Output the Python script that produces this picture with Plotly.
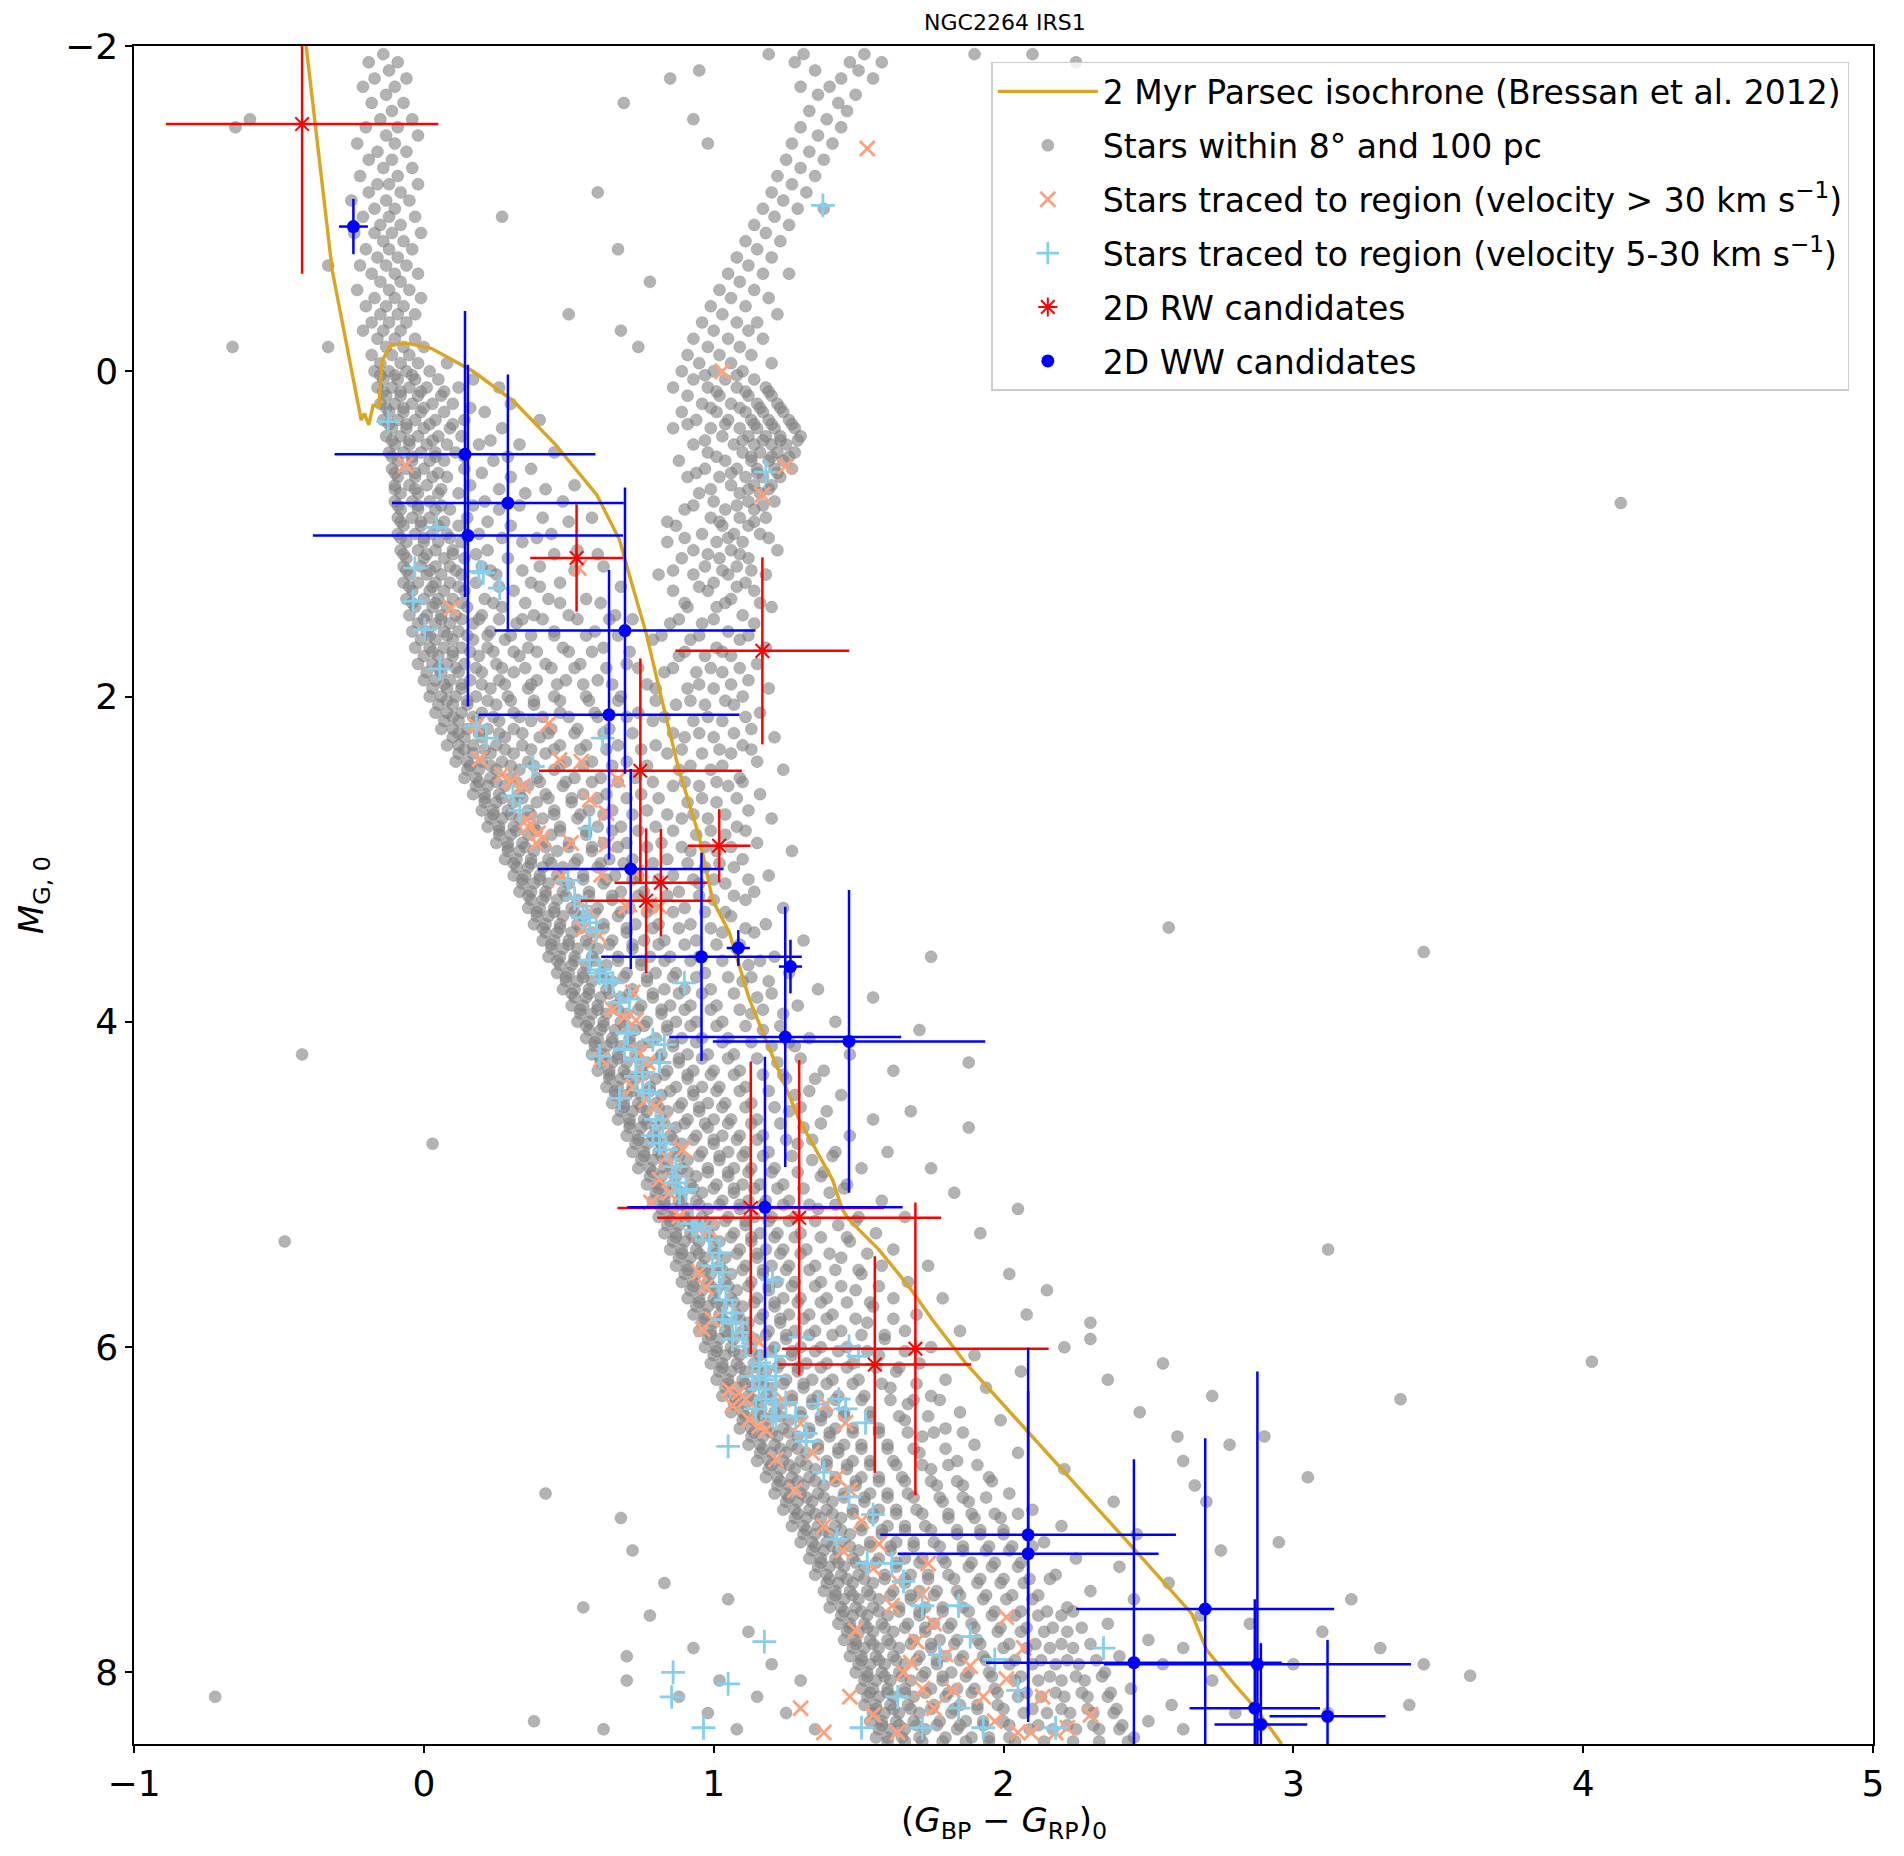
import plotly.graph_objects as go

# ---- background field stars (color, magnitude) ----
field_rows = [
    (-1.95, [-0.14, 1.19, 1.31, 1.52, 2.10]),
    (-1.90, [-0.09, -0.19, 1.28, 1.47, 1.58]),
    (-1.85, [-0.12, 1.35, 1.50, 0.95]),
    (-1.80, [-0.17, -0.06, 1.44, 1.55]),
    (-1.75, [-0.21, -0.10, 1.40, 1.30]),
    (-1.70, [-0.13, 1.49, 1.36]),
    (-1.65, [-0.18, -0.07, 0.69, 1.43]),
    (-1.60, [-0.11, 1.33, 1.46]),
    (-1.55, [-0.60, -0.15, -0.04, 1.39]),
    (-1.50, [-0.20, -0.09, 1.30, 1.44]),
    (-1.45, [-0.13, -0.02, 1.36]),
    (-1.40, [-0.23, -0.10, 1.27, 1.41]),
    (-1.35, [-0.16, -0.06, 1.33]),
    (-1.30, [-0.19, -0.11, 1.25, 1.38]),
    (-1.25, [-0.14, -0.04, 1.30]),
    (-1.20, [-0.22, -0.09, 1.22, 1.35]),
    (-1.15, [-0.16, -0.12, -0.02, 1.27]),
    (-1.10, [-0.19, -0.08, 1.20, 1.32]),
    (-1.05, [-0.25, -0.13, -0.05, 1.24]),
    (-1.00, [-0.17, -0.10, 1.17, 1.29, 1.38]),
    (-0.95, [-0.21, -0.12, -0.03, 0.27, 1.21]),
    (-0.90, [-0.15, -0.08, 1.14, 1.26]),
    (-0.85, [-0.24, -0.17, -0.11, -0.01, 1.18]),
    (-0.80, [-0.14, -0.07, 1.11, 1.23]),
    (-0.75, [-0.20, -0.12, -0.04, 0.67, 1.15]),
    (-0.70, [-0.16, -0.09, 1.08, 1.20]),
    (-0.65, [-0.33, -0.22, -0.13, -0.06, 1.12]),
    (-0.60, [-0.18, -0.10, -0.02, 1.05, 1.17, 1.26]),
    (-0.55, [-0.15, -0.08, 0.78, 1.09]),
    (-0.50, [-0.23, -0.12, -0.05, 1.02, 1.14]),
    (-0.45, [-0.17, -0.10, -0.01, 1.06, 1.19]),
    (-0.40, [-0.20, -0.13, -0.07, 0.99, 1.11]),
    (-0.35, [-0.15, -0.09, -0.03, 0.50, 1.03, 1.22]),
    (-0.30, [-0.18, -0.12, -0.06, 0.96, 1.08, 1.15]),
    (-0.25, [-0.21, -0.14, -0.08, 0.68, 1.00, 1.12]),
    (-0.20, [-0.16, -0.10, -0.03, 0.93, 1.05, 1.17]),
    (-0.15, [-0.66, -0.33, -0.13, -0.07, 0.00, 0.74, 0.98, 1.09]),
    (-0.10, [-0.18, -0.11, -0.05, 0.91, 1.02, 1.13]),
    (-0.05, [-0.15, -0.08, -0.02, 0.08, 0.95, 1.06, 1.20]),
    (0.00, [-0.17, -0.12, -0.06, 0.02, 0.89, 1.00, 1.10]),
    (0.05, [-0.14, -0.09, -0.03, 0.05, 0.17, 0.93, 1.04, 1.14]),
    (0.10, [-0.16, -0.11, -0.05, 0.01, 0.12, 0.26, 0.86, 0.98, 1.08, 1.18]),
    (0.15, [-0.13, -0.08, -0.02, 0.06, 0.91, 1.02, 1.12, 1.20]),
    (0.20, [-0.15, -0.10, -0.04, 0.03, 0.10, 0.30, 0.96, 1.06, 1.15, 1.22]),
    (0.25, [-0.12, -0.07, -0.01, 0.07, 0.21, 0.89, 1.01, 1.11, 1.17, 1.24]),
    (0.30, [-0.14, -0.09, -0.03, 0.04, 0.14, 0.40, 0.94, 1.05, 1.13, 1.19, 1.26]),
    (0.35, [-0.11, -0.06, 0.00, 0.09, 0.27, 0.86, 0.99, 1.09, 1.15, 1.21, 1.28]),
    (0.40, [-0.13, -0.08, -0.02, 0.05, 0.13, 1.03, 1.12, 1.18, 1.23, 1.30]),
    (0.45, [-0.10, -0.05, 0.01, 0.08, 0.19, 0.33, 0.93, 1.07, 1.14, 1.20, 1.25]),
    (0.50, [-0.12, -0.07, -0.01, 0.04, 0.11, 0.45, 0.98, 1.10, 1.16, 1.22, 1.28]),
    (0.55, [-0.09, -0.04, 0.02, 0.07, 0.24, 0.88, 1.04, 1.13, 1.19, 1.24]),
    (0.60, [-0.11, -0.06, 0.00, 0.14, 0.37, 0.97, 1.08, 1.15, 1.21, 1.27]),
    (0.65, [-0.09, -0.03, 0.03, 0.08, 0.30, 0.91, 1.02, 1.11, 1.17, 1.23]),
    (0.70, [-0.10, -0.05, 0.01, 0.16, 0.52, 1.06, 1.14, 1.20]),
    (0.75, [-0.08, -0.02, 0.05, 0.12, 0.35, 0.95, 1.09, 1.16]),
    (0.80, [-0.10, -0.04, 0.02, 0.21, 0.48, 1.00, 1.12, 1.21]),
    (0.85, [-0.08, -0.02, 0.04, 0.09, 0.26, 0.90, 1.04, 1.14]),
    (0.90, [-0.09, -0.04, 0.02, 0.15, 0.41, 0.58, 0.99, 1.09, 1.18]),
    (0.95, [-0.07, -0.01, 0.05, 0.12, 0.30, 0.87, 1.03, 1.12]),
    (1.00, [-0.09, -0.03, 0.03, 0.08, 0.19, 0.44, 0.96, 1.07, 1.16]),
    (1.05, [-0.06, 0.00, 0.05, 0.13, 0.34, 0.84, 1.01, 1.10]),
    (1.10, [-0.08, -0.02, 0.04, 0.10, 0.22, 0.53, 0.93, 1.06, 1.22]),
    (1.15, [-0.06, 0.00, 0.07, 0.14, 0.29, 0.89, 1.02, 1.12]),
    (1.20, [-0.07, -0.01, 0.04, 0.09, 0.20, 0.40, 0.62, 0.97, 1.08]),
    (1.25, [-0.05, 0.01, 0.06, 0.13, 0.25, 0.81, 0.93, 1.05, 1.18]),
    (1.30, [-0.07, -0.02, 0.04, 0.09, 0.18, 0.37, 0.47, 1.00, 1.11]),
    (1.35, [-0.04, 0.02, 0.07, 0.14, 0.31, 0.86, 0.98, 1.14]),
    (1.40, [-0.06, 0.00, 0.05, 0.10, 0.21, 0.43, 0.56, 1.06]),
    (1.45, [-0.03, 0.03, 0.08, 0.15, 0.27, 0.91, 1.01, 1.20]),
    (1.50, [-0.05, 0.01, 0.06, 0.11, 0.20, 0.38, 0.50, 0.66, 1.10]),
    (1.55, [-0.02, 0.04, 0.09, 0.17, 0.32, 0.85, 0.96, 1.14]),
    (1.60, [-0.04, 0.01, 0.07, 0.12, 0.23, 0.45, 0.59, 1.05]),
    (1.65, [-0.01, 0.04, 0.10, 0.17, 0.28, 0.79, 0.92, 1.09]),
    (1.70, [-0.03, 0.02, 0.07, 0.13, 0.22, 0.36, 0.48, 0.62, 1.01, 1.18]),
    (1.75, [0.00, 0.05, 0.10, 0.19, 0.33, 0.88, 0.97, 1.06]),
    (1.80, [-0.02, 0.03, 0.08, 0.14, 0.25, 0.42, 0.54, 0.70, 1.15]),
    (1.85, [0.01, 0.06, 0.12, 0.20, 0.31, 0.83, 0.94, 1.03]),
    (1.90, [0.00, 0.04, 0.09, 0.16, 0.26, 0.39, 0.49, 0.60, 1.12]),
    (1.95, [0.03, 0.08, 0.13, 0.23, 0.36, 0.80, 0.91, 1.00, 1.19]),
    (2.00, [0.02, 0.06, 0.11, 0.18, 0.29, 0.45, 0.56, 0.68, 1.10]),
    (2.05, [0.05, 0.10, 0.15, 0.25, 0.38, 0.87, 0.97, 1.07]),
    (2.10, [0.04, 0.08, 0.13, 0.20, 0.31, 0.47, 0.59, 0.74, 1.16]),
    (2.15, [0.07, 0.12, 0.18, 0.26, 0.37, 0.79, 0.93, 1.03]),
    (2.20, [0.06, 0.10, 0.15, 0.22, 0.31, 0.44, 0.53, 0.64, 1.13]),
    (2.25, [0.10, 0.14, 0.20, 0.28, 0.40, 0.90, 1.00, 1.21]),
    (2.30, [0.08, 0.12, 0.17, 0.25, 0.34, 0.47, 0.56, 0.67, 0.80, 1.10]),
    (2.35, [0.12, 0.17, 0.23, 0.31, 0.42, 0.84, 0.96, 1.06]),
    (2.40, [0.11, 0.15, 0.20, 0.27, 0.36, 0.49, 0.58, 0.70, 1.15]),
    (2.45, [0.15, 0.19, 0.25, 0.33, 0.45, 0.88, 0.99, 1.24]),
    (2.50, [0.14, 0.18, 0.23, 0.30, 0.39, 0.52, 0.61, 0.73, 1.09]),
    (2.55, [0.18, 0.22, 0.28, 0.36, 0.48, 0.86, 0.95, 1.05]),
    (2.60, [0.17, 0.21, 0.26, 0.33, 0.42, 0.55, 0.63, 0.75, 1.16]),
    (2.65, [0.21, 0.25, 0.31, 0.39, 0.51, 0.91, 1.01]),
    (2.70, [0.20, 0.24, 0.29, 0.36, 0.45, 0.57, 0.65, 0.77, 1.12]),
    (2.75, [0.23, 0.27, 0.33, 0.41, 0.53, 0.89, 0.98, 1.20]),
    (2.80, [0.22, 0.26, 0.31, 0.38, 0.47, 0.60, 0.68, 0.80, 1.08]),
    (2.85, [0.26, 0.30, 0.36, 0.44, 0.56, 0.94, 1.04]),
    (2.90, [0.25, 0.29, 0.34, 0.41, 0.50, 0.62, 0.70, 0.82, 1.15]),
    (2.95, [0.29, 0.33, 0.38, 0.46, 0.58, 0.92, 1.01, 1.27]),
    (3.00, [0.28, 0.32, 0.37, 0.43, 0.53, 0.64, 0.72, 0.84, 1.10]),
    (3.05, [0.32, 0.36, 0.41, 0.48, 0.60, 0.97, 1.07]),
    (3.10, [0.31, 0.35, 0.40, 0.46, 0.55, 0.66, 0.74, 0.86, 1.19]),
    (3.15, [0.34, 0.38, 0.43, 0.50, 0.62, 0.95, 1.04]),
    (3.20, [0.33, 0.37, 0.42, 0.48, 0.57, 0.68, 0.76, 0.88, 1.14]),
    (3.25, [0.37, 0.41, 0.46, 0.53, 0.65, 1.00, 1.11]),
    (3.30, [0.36, 0.40, 0.45, 0.51, 0.60, 0.71, 0.79, 0.90, 1.24]),
    (3.35, [0.39, 0.43, 0.48, 0.55, 0.67, 1.06]),
    (3.40, [0.38, 0.42, 0.47, 0.53, 0.62, 0.73, 0.81, 0.92, 1.18]),
    (3.45, [0.42, 0.46, 0.51, 0.58, 0.70, 1.03, 1.14]),
    (3.50, [0.41, 0.45, 0.50, 0.56, 0.65, 0.76, 0.83, 0.94, 1.31]),
    (3.55, [0.44, 0.48, 0.53, 0.60, 0.72, 1.08]),
    (3.60, [0.43, 0.47, 0.52, 0.58, 0.67, 0.78, 0.85, 0.95, 1.21]),
    (3.65, [0.47, 0.51, 0.56, 0.63, 0.75, 1.12]),
    (3.70, [0.46, 0.50, 0.55, 0.61, 0.70, 0.80, 0.87, 0.97, 1.26]),
    (3.75, [0.49, 0.53, 0.58, 0.65, 0.77, 1.10, 1.19]),
    (3.80, [0.48, 0.52, 0.57, 0.63, 0.72, 0.83, 0.90, 0.99, 1.36]),
    (3.85, [0.52, 0.56, 0.61, 0.68, 0.79, 1.15]),
    (3.90, [0.51, 0.55, 0.60, 0.66, 0.75, 0.85, 0.92, 1.01, 1.29]),
    (3.95, [0.54, 0.58, 0.63, 0.70, 0.82, 1.13, 1.24]),
    (4.00, [0.53, 0.57, 0.62, 0.68, 0.77, 0.87, 0.94, 1.03, 1.42]),
    (4.05, [0.57, 0.61, 0.66, 0.73, 0.84, 1.17]),
    (4.10, [0.56, 0.60, 0.65, 0.71, 0.80, 0.89, 0.96, 1.05, 1.33]),
    (4.15, [0.59, 0.63, 0.68, 0.75, 0.86, 1.20, 1.28]),
    (4.20, [0.58, 0.62, 0.67, 0.73, 0.82, 0.91, 0.98, 1.07, 1.47, -0.42]),
    (4.25, [0.61, 0.65, 0.70, 0.77, 0.88, 1.22]),
    (4.30, [0.60, 0.64, 0.69, 0.75, 0.84, 0.93, 1.00, 1.09, 1.38]),
    (4.35, [0.64, 0.68, 0.73, 0.80, 0.91, 1.25, 1.35]),
    (4.40, [0.63, 0.67, 0.72, 0.78, 0.87, 0.96, 1.02, 1.11]),
    (4.45, [0.66, 0.70, 0.75, 0.82, 0.93, 1.28, 1.44]),
    (4.50, [0.65, 0.69, 0.74, 0.80, 0.89, 0.98, 1.04, 1.13]),
    (4.55, [0.68, 0.72, 0.77, 0.84, 0.95, 1.26, 1.39]),
    (4.60, [0.67, 0.71, 0.76, 0.82, 0.91, 1.00, 1.06, 1.15, 1.55]),
    (4.65, [0.71, 0.75, 0.80, 0.87, 0.98, 1.31]),
    (4.70, [0.70, 0.74, 0.79, 0.85, 0.94, 1.03, 1.09, 1.17, 1.47]),
    (4.75, [0.73, 0.77, 0.82, 0.89, 1.00, 1.29, 0.03]),
    (4.80, [0.72, 0.76, 0.81, 0.87, 0.96, 1.05, 1.11, 1.19, 1.42, 1.60]),
    (4.85, [0.75, 0.79, 0.84, 0.91, 1.02, 1.34]),
    (4.90, [0.74, 0.78, 0.83, 0.89, 0.98, 1.07, 1.13, 1.21, 1.51]),
    (4.95, [0.78, 0.82, 0.87, 0.94, 1.05, 1.37]),
    (5.00, [0.77, 0.81, 0.86, 0.92, 1.01, 1.10, 1.16, 1.24, 1.46]),
    (5.05, [0.80, 0.84, 0.89, 0.96, 1.07, 1.40]),
    (5.10, [0.79, 0.83, 0.88, 0.94, 1.03, 1.12, 1.18, 1.26, 1.58]),
    (5.15, [0.82, 0.86, 0.91, 0.98, 1.09, 1.36]),
    (5.20, [0.81, 0.85, 0.90, 0.96, 1.05, 1.14, 1.20, 1.28, 1.50, 1.66]),
    (5.25, [0.84, 0.88, 0.93, 1.00, 1.11, 1.43]),
    (5.30, [0.83, 0.87, 0.92, 0.98, 1.07, 1.16, 1.22, 1.30, 1.56]),
    (5.35, [0.86, 0.90, 0.95, 1.02, 1.13, 1.47, -0.48]),
    (5.40, [0.85, 0.89, 0.94, 1.00, 1.09, 1.18, 1.24, 1.32, 1.62]),
    (5.45, [0.88, 0.92, 0.97, 1.04, 1.15, 1.44]),
    (5.50, [0.87, 0.91, 0.96, 1.02, 1.11, 1.20, 1.26, 1.35, 1.58, 1.74]),
    (5.55, [0.90, 0.94, 0.99, 1.06, 1.17, 1.51]),
    (5.60, [0.89, 0.93, 0.98, 1.04, 1.13, 1.22, 1.28, 1.37, 1.67]),
    (5.65, [0.92, 0.96, 1.01, 1.08, 1.19, 1.49]),
    (5.70, [0.91, 0.95, 1.00, 1.06, 1.15, 1.24, 1.30, 1.39, 1.62, 1.79]),
    (5.75, [0.94, 0.98, 1.03, 1.10, 1.21, 1.55]),
    (5.80, [0.93, 0.97, 1.02, 1.08, 1.17, 1.26, 1.33, 1.41, 1.70]),
    (5.85, [0.96, 1.00, 1.05, 1.12, 1.23, 1.53]),
    (5.90, [0.95, 0.99, 1.04, 1.10, 1.19, 1.28, 1.35, 1.44, 1.66, 1.85]),
    (5.95, [0.98, 1.02, 1.07, 1.14, 1.25, 1.59]),
    (6.00, [0.97, 1.01, 1.06, 1.12, 1.21, 1.30, 1.37, 1.46, 1.75]),
    (6.05, [1.00, 1.04, 1.09, 1.16, 1.27, 1.57, 1.90]),
    (6.10, [0.99, 1.03, 1.08, 1.14, 1.23, 1.32, 1.39, 1.48, 1.71]),
    (6.15, [1.02, 1.06, 1.11, 1.18, 1.29, 1.63, 2.06]),
    (6.20, [1.01, 1.05, 1.10, 1.16, 1.25, 1.34, 1.41, 1.50, 1.80]),
    (6.25, [1.04, 1.08, 1.13, 1.20, 1.31, 1.61, 1.94]),
    (6.30, [1.03, 1.07, 1.12, 1.18, 1.27, 1.36, 1.43, 1.52, 1.75, 2.72]),
    (6.35, [1.07, 1.11, 1.16, 1.23, 1.34, 1.67]),
    (6.40, [1.06, 1.10, 1.15, 1.21, 1.30, 1.39, 1.45, 1.54, 1.85]),
    (6.45, [1.10, 1.14, 1.19, 1.26, 1.37, 1.66, 1.99]),
    (6.50, [1.09, 1.13, 1.18, 1.24, 1.33, 1.42, 1.48, 1.57, 1.80]),
    (6.55, [1.13, 1.17, 1.22, 1.29, 1.40, 1.72, 2.60]),
    (6.60, [1.12, 1.16, 1.21, 1.27, 1.36, 1.45, 1.51, 1.60, 1.90]),
    (6.65, [1.16, 1.20, 1.25, 1.32, 1.43, 1.71, 2.05]),
    (6.70, [1.15, 1.19, 1.24, 1.30, 1.39, 1.48, 1.54, 1.62, 1.84]),
    (6.75, [1.19, 1.23, 1.28, 1.35, 1.46, 1.75, 2.21]),
    (6.80, [1.18, 1.22, 1.27, 1.33, 1.42, 1.51, 1.57, 1.65, 1.95]),
    (6.85, [1.22, 1.26, 1.31, 1.38, 1.49, 1.77, 1.86, 2.66]),
    (6.90, [1.21, 1.25, 1.30, 1.36, 1.45, 1.54, 1.60, 1.67, 2.02]),
    (6.95, [1.25, 1.29, 1.34, 1.41, 1.52, 1.79, 1.88, 2.38]),
    (7.00, [1.24, 1.28, 1.33, 1.39, 1.48, 1.57, 1.63, 1.70, 2.10]),
    (7.05, [1.28, 1.32, 1.37, 1.44, 1.55, 1.81, 1.90, 1.99, 0.68]),
    (7.10, [1.27, 1.31, 1.36, 1.42, 1.51, 1.60, 1.66, 1.73, 2.20]),
    (7.15, [1.31, 1.35, 1.40, 1.47, 1.58, 1.84, 1.92, 2.00, 2.46]),
    (7.20, [1.30, 1.34, 1.39, 1.45, 1.54, 1.63, 1.69, 1.76, 2.14]),
    (7.25, [1.34, 1.38, 1.43, 1.50, 1.61, 1.86, 1.94, 2.02, 2.75, 0.72]),
    (7.30, [1.33, 1.37, 1.42, 1.48, 1.57, 1.66, 1.72, 1.79, 2.25]),
    (7.35, [1.36, 1.40, 1.45, 1.52, 1.63, 1.88, 1.96, 2.05, 2.40]),
    (7.40, [1.35, 1.39, 1.44, 1.50, 1.59, 1.68, 1.74, 1.81, 2.18]),
    (7.45, [1.39, 1.43, 1.48, 1.55, 1.66, 1.91, 1.99, 2.07, 2.57, 0.83]),
    (7.50, [1.38, 1.42, 1.47, 1.53, 1.62, 1.71, 1.77, 1.84, 2.30]),
    (7.55, [1.41, 1.45, 1.50, 1.57, 1.68, 1.93, 2.01, 2.10, 2.45, 1.05]),
    (7.60, [1.40, 1.44, 1.49, 1.55, 1.64, 1.73, 1.79, 1.86, 2.22]),
    (7.65, [1.44, 1.48, 1.53, 1.60, 1.71, 1.96, 2.04, 2.12, 2.20, 2.68, 0.78]),
    (7.70, [1.43, 1.47, 1.52, 1.58, 1.67, 1.76, 1.82, 1.89, 2.36]),
    (7.75, [1.46, 1.50, 1.55, 1.62, 1.73, 1.98, 2.06, 2.14, 2.22, 3.10, 1.12]),
    (7.80, [1.45, 1.49, 1.54, 1.60, 1.69, 1.78, 1.84, 1.91, 2.50]),
    (7.85, [1.48, 1.52, 1.57, 1.64, 1.75, 2.00, 2.08, 2.16, 2.24, 2.62, 0.93]),
    (7.90, [1.47, 1.51, 1.56, 1.62, 1.71, 1.80, 1.86, 1.93, 2.40]),
    (7.95, [1.50, 1.54, 1.59, 1.66, 1.77, 2.02, 2.10, 2.18, 2.26, 2.55, 1.20, 3.45]),
    (8.00, [1.49, 1.53, 1.58, 1.64, 1.73, 1.82, 1.88, 1.95, 2.35]),
    (8.05, [1.52, 1.56, 1.61, 1.68, 1.79, 2.04, 2.12, 2.20, 2.28, 2.72, 1.02, 1.30, 0.70]),
    (8.10, [1.51, 1.55, 1.60, 1.66, 1.75, 1.84, 1.90, 1.97, 2.44]),
    (8.15, [1.53, 1.57, 1.62, 1.69, 1.80, 2.05, 2.13, 2.21, 2.29, 2.36, 1.15, 0.88, -0.72]),
    (8.20, [1.52, 1.56, 1.61, 1.67, 1.76, 1.85, 1.91, 1.98, 2.58]),
    (8.25, [1.55, 1.59, 1.64, 1.71, 1.82, 2.07, 2.15, 2.23, 2.31, 2.38, 2.80, 1.25, 0.98, 3.12]),
    (8.30, [1.54, 1.58, 1.63, 1.69, 1.78, 1.87, 1.93, 2.00, 2.50]),
    (8.35, [1.57, 1.61, 1.66, 1.73, 1.84, 2.09, 2.17, 2.25, 2.33, 2.40, 2.62, 1.35, 1.08, 0.62]),
    (8.40, [1.56, 1.60, 1.65, 1.71, 1.80, 1.89, 1.95, 2.02, 2.45]),
]

# more field stars in the crowded parts, read between the rows above
field_rows_dense = [
    (0.025, [-0.15, -0.10, -0.04, 0.97, 1.08]),
    (0.125, [-0.14, -0.08, -0.01, 0.07, 1.01, 1.11, 1.19]),
    (0.225, [-0.13, -0.07, 0.00, 0.16, 0.99, 1.09, 1.16, 1.23]),
    (0.325, [-0.12, -0.06, 0.02, 0.10, 0.91, 1.04, 1.14, 1.20, 1.27]),
    (0.425, [-0.11, -0.05, 0.03, 0.23, 0.97, 1.10, 1.17, 1.23, 1.29]),
    (0.525, [-0.11, -0.04, 0.04, 0.14, 0.29, 1.01, 1.13, 1.20, 1.26]),
    (0.625, [-0.10, -0.03, 0.05, 0.20, 0.94, 1.06, 1.15, 1.22]),
    (0.725, [-0.10, -0.03, 0.06, 0.26, 0.42, 0.99, 1.12, 1.19]),
    (0.825, [-0.09, -0.02, 0.06, 0.17, 0.33, 0.93, 1.08, 1.17]),
    (0.925, [-0.08, -0.01, 0.07, 0.22, 0.50, 0.84, 1.02, 1.14]),
    (1.025, [-0.08, 0.00, 0.09, 0.27, 0.39, 0.90, 1.05, 1.19]),
    (1.125, [-0.07, 0.01, 0.10, 0.18, 0.45, 0.60, 0.98, 1.09]),
    (1.225, [-0.06, 0.02, 0.11, 0.23, 0.34, 0.52, 0.86, 1.03, 1.13]),
    (1.325, [-0.05, 0.03, 0.12, 0.26, 0.40, 0.68, 0.95, 1.08]),
    (1.425, [-0.04, 0.04, 0.13, 0.24, 0.35, 0.47, 0.61, 0.90, 1.04, 1.16]),
    (1.525, [0.00, 0.06, 0.13, 0.19, 0.26, 0.34, 0.41, 0.53, 0.64, 0.72, 0.88, 1.00]),
    (1.625, [0.02, 0.08, 0.15, 0.22, 0.30, 0.37, 0.45, 0.56, 0.67, 0.82, 0.95, 1.12]),
    (1.725, [0.03, 0.10, 0.16, 0.24, 0.31, 0.39, 0.50, 0.58, 0.71, 0.90, 1.03]),
    (1.825, [0.05, 0.11, 0.18, 0.27, 0.35, 0.44, 0.52, 0.63, 0.74, 0.86, 0.99, 1.09]),
    (1.925, [0.07, 0.13, 0.20, 0.28, 0.37, 0.46, 0.55, 0.65, 0.77, 0.95, 1.06]),
    (2.025, [0.08, 0.15, 0.22, 0.30, 0.38, 0.47, 0.57, 0.67, 0.80, 0.92, 1.04]),
    (2.125, [0.10, 0.17, 0.24, 0.33, 0.41, 0.50, 0.60, 0.70, 0.83, 0.98, 1.11]),
    (2.225, [0.12, 0.19, 0.26, 0.34, 0.43, 0.52, 0.62, 0.72, 0.86, 0.95, 1.07]),
    (2.325, [0.14, 0.21, 0.28, 0.37, 0.45, 0.54, 0.63, 0.75, 0.89, 1.02, 1.13]),
    (2.425, [0.16, 0.23, 0.30, 0.38, 0.47, 0.55, 0.65, 0.77, 0.92, 1.03]),
    (2.525, [0.19, 0.25, 0.32, 0.40, 0.49, 0.58, 0.67, 0.79, 0.90, 1.01, 1.10]),
    (2.625, [0.21, 0.27, 0.34, 0.43, 0.51, 0.60, 0.70, 0.81, 0.96, 1.08]),
    (2.725, [0.24, 0.30, 0.37, 0.45, 0.54, 0.62, 0.72, 0.84, 0.93, 1.04]),
    (2.825, [0.26, 0.32, 0.39, 0.47, 0.56, 0.65, 0.74, 0.86, 0.99, 1.11]),
    (2.925, [0.29, 0.35, 0.42, 0.50, 0.58, 0.67, 0.77, 0.89, 0.97, 1.06]),
    (3.025, [0.31, 0.37, 0.44, 0.52, 0.61, 0.69, 0.79, 0.91, 1.02]),
    (3.125, [0.34, 0.40, 0.47, 0.55, 0.63, 0.72, 0.81, 0.93, 1.00, 1.12]),
    (3.225, [0.36, 0.42, 0.49, 0.57, 0.65, 0.74, 0.84, 0.95, 1.07]),
    (3.325, [0.39, 0.45, 0.52, 0.59, 0.68, 0.77, 0.86, 0.97, 1.04]),
    (3.425, [0.41, 0.47, 0.54, 0.62, 0.70, 0.79, 0.88, 0.99, 1.11]),
    (3.525, [0.44, 0.50, 0.57, 0.64, 0.72, 0.81, 0.90, 1.01, 1.09]),
    (3.625, [0.46, 0.52, 0.59, 0.67, 0.75, 0.83, 0.92, 1.03, 1.16]),
    (3.725, [0.49, 0.55, 0.62, 0.69, 0.77, 0.86, 0.94, 1.05, 1.13]),
    (3.825, [0.51, 0.57, 0.64, 0.71, 0.79, 0.88, 0.96, 1.07, 1.20]),
    (3.925, [0.54, 0.60, 0.67, 0.74, 0.82, 0.90, 0.99, 1.09, 1.17]),
    (4.025, [0.56, 0.62, 0.69, 0.76, 0.84, 0.92, 1.01, 1.11, 1.23]),
    (4.125, [0.59, 0.65, 0.71, 0.78, 0.86, 0.94, 1.03, 1.13, 1.26]),
    (4.225, [0.61, 0.67, 0.74, 0.81, 0.88, 0.96, 1.05, 1.15, 1.30]),
    (4.325, [0.64, 0.70, 0.76, 0.83, 0.91, 0.99, 1.07, 1.17, 1.24]),
    (4.425, [0.66, 0.72, 0.78, 0.85, 0.93, 1.01, 1.09, 1.19, 1.33]),
    (4.525, [0.69, 0.75, 0.81, 0.88, 0.95, 1.03, 1.11, 1.21, 1.30]),
    (4.625, [0.71, 0.77, 0.83, 0.90, 0.97, 1.05, 1.13, 1.23, 1.37]),
    (4.725, [0.74, 0.80, 0.86, 0.93, 1.00, 1.08, 1.15, 1.25, 1.34]),
    (4.825, [0.76, 0.82, 0.88, 0.95, 1.02, 1.10, 1.17, 1.27, 1.41]),
    (4.925, [0.79, 0.85, 0.91, 0.98, 1.05, 1.12, 1.20, 1.29, 1.38]),
    (5.025, [0.81, 0.87, 0.93, 1.00, 1.07, 1.14, 1.22, 1.31, 1.45]),
    (5.125, [0.83, 0.89, 0.95, 1.02, 1.09, 1.17, 1.24, 1.33, 1.42]),
    (5.225, [0.85, 0.91, 0.97, 1.04, 1.11, 1.19, 1.26, 1.35, 1.49]),
    (5.325, [0.87, 0.93, 0.99, 1.06, 1.13, 1.21, 1.28, 1.37, 1.46]),
    (5.425, [0.89, 0.95, 1.01, 1.08, 1.15, 1.23, 1.30, 1.40, 1.53]),
    (5.525, [0.91, 0.97, 1.03, 1.10, 1.17, 1.25, 1.33, 1.42, 1.50]),
    (5.625, [0.93, 0.99, 1.05, 1.12, 1.19, 1.27, 1.35, 1.44, 1.57]),
    (5.725, [0.95, 1.01, 1.07, 1.14, 1.21, 1.29, 1.37, 1.46, 1.54]),
    (5.825, [0.97, 1.03, 1.09, 1.16, 1.23, 1.31, 1.39, 1.49, 1.62]),
    (5.925, [0.99, 1.05, 1.11, 1.18, 1.25, 1.33, 1.41, 1.51, 1.59]),
    (6.025, [1.01, 1.07, 1.13, 1.20, 1.27, 1.35, 1.43, 1.53, 1.66]),
    (6.125, [1.03, 1.09, 1.15, 1.22, 1.29, 1.37, 1.46, 1.56, 1.64]),
    (6.225, [1.05, 1.11, 1.17, 1.24, 1.31, 1.39, 1.48, 1.58, 1.70]),
    (6.325, [1.08, 1.14, 1.20, 1.27, 1.34, 1.42, 1.51, 1.61, 1.69, 1.78]),
    (6.425, [1.11, 1.17, 1.23, 1.30, 1.37, 1.45, 1.54, 1.64, 1.74]),
    (6.525, [1.14, 1.20, 1.26, 1.33, 1.40, 1.48, 1.57, 1.67, 1.76, 1.86]),
    (6.625, [1.17, 1.23, 1.29, 1.36, 1.43, 1.51, 1.60, 1.69, 1.80]),
    (6.725, [1.20, 1.26, 1.32, 1.39, 1.46, 1.54, 1.63, 1.72, 1.81, 1.91]),
    (6.825, [1.23, 1.29, 1.35, 1.42, 1.49, 1.57, 1.66, 1.75, 1.84, 1.96]),
    (6.925, [1.26, 1.32, 1.38, 1.45, 1.52, 1.60, 1.69, 1.78, 1.86, 1.94]),
    (7.025, [1.29, 1.35, 1.41, 1.48, 1.55, 1.63, 1.72, 1.81, 1.89, 1.97, 2.05]),
    (7.125, [1.32, 1.38, 1.44, 1.51, 1.58, 1.66, 1.75, 1.84, 1.92, 2.00]),
    (7.225, [1.35, 1.41, 1.47, 1.54, 1.61, 1.69, 1.78, 1.86, 1.95, 2.03, 2.10]),
    (7.325, [1.37, 1.43, 1.49, 1.56, 1.63, 1.71, 1.80, 1.89, 1.97, 2.06]),
    (7.425, [1.40, 1.46, 1.52, 1.59, 1.66, 1.74, 1.83, 1.92, 2.00, 2.09, 2.16]),
    (7.525, [1.42, 1.48, 1.54, 1.61, 1.68, 1.76, 1.85, 1.94, 2.03, 2.12]),
    (7.625, [1.45, 1.51, 1.57, 1.64, 1.71, 1.79, 1.88, 1.97, 2.06, 2.15, 2.24]),
    (7.725, [1.47, 1.53, 1.59, 1.66, 1.73, 1.81, 1.90, 1.99, 2.08, 2.17, 2.27]),
    (7.825, [1.49, 1.55, 1.61, 1.68, 1.75, 1.83, 1.92, 2.02, 2.11, 2.20, 2.30]),
    (7.925, [1.51, 1.57, 1.63, 1.70, 1.77, 1.85, 1.94, 2.04, 2.13, 2.22, 2.32]),
    (8.025, [1.53, 1.59, 1.65, 1.72, 1.79, 1.87, 1.96, 2.06, 2.16, 2.25, 2.34]),
    (8.125, [1.54, 1.60, 1.66, 1.73, 1.81, 1.89, 1.98, 2.08, 2.18, 2.27, 2.37]),
    (8.225, [1.56, 1.62, 1.68, 1.75, 1.83, 1.91, 2.00, 2.10, 2.20, 2.29, 2.39]),
    (8.325, [1.58, 1.64, 1.70, 1.77, 1.85, 1.93, 2.02, 2.12, 2.22, 2.31, 2.41]),
    (8.425, [1.60, 1.66, 1.72, 1.79, 1.87, 1.95, 2.04, 2.14, 2.24, 2.33, 2.43]),
]

# scattered field stars away from the sequences
sparse_color = [4.13, 4.03, 3.45, 3.37, 3.61, 2.57, 3.12, 3.05, 2.95, 3.20, 2.90, 3.30, 2.70, 2.85,
                3.40, -0.65, 0.93, 1.90, 2.25, 1.62, 1.75, 1.92, 2.08, 2.21, 2.36, 2.47, 1.68, 1.83,
                2.02, 2.15, 2.30, 2.55, 2.62, 2.78, 3.00, 1.55, 1.71, 1.88, 0.60, 0.85, 0.98, 1.75,
                1.88, 2.05, 2.30, 0.42, 0.55, 0.38, 0.70]
sparse_mag = [0.81, 6.09, 3.57, 6.32, 8.02, 3.42, 5.40, 6.80, 7.20, 7.55, 6.55, 7.85, 6.95, 7.70,
              8.20, -1.50, -1.55, -1.95, -1.90, 4.30, 4.90, 5.30, 5.80, 6.00, 6.20, 6.40, 4.55, 5.05,
              5.55, 5.65, 5.95, 6.10, 6.70, 6.60, 7.95, 3.85, 4.05, 4.65, -1.10, -1.80, -1.40, 3.60,
              4.25, 5.15, 5.85, 6.90, 7.60, 8.30, 7.90]

# stars traced to region, velocity > 30 km/s
fast_color = [-0.063, 1.03, 1.53, 1.247, 1.168, 0.095, 0.534, 0.18, 0.43, 0.193, 0.468, 0.543, 0.268,
              0.302, 0.342, 0.572, 0.63, 0.354, 0.394, 0.388, 0.508, 0.63, 0.669, 0.474, 0.612, 0.732,
              0.549, 0.606, 0.572, 0.698, 0.813, 0.721, 0.709, 0.778, 0.652, 0.692, 0.732, 0.612, 0.744,
              0.772, 0.721, 0.767, 0.801, 0.824, 0.893, 0.836, 0.813, 0.847, 0.784, 0.882, 0.95, 0.985,
              0.95, 0.973, 0.996, 0.962, 1.157, 1.054, 1.088, 1.111, 1.065, 1.122, 1.157, 1.18, 1.387,
              1.455, 0.36, 0.41,
              1.238, 1.30, 1.34, 1.425, 1.47, 1.51, 1.445, 1.55, 1.635, 1.615, 1.72, 1.76, 1.70, 1.80,
              1.655, 1.885, 1.825, 1.93, 1.76, 2.01, 1.97, 2.135, 2.095, 2.22, 2.30, 1.55, 1.47, 1.635,
              1.38, 1.30, 1.49, 1.57, 1.38, 1.215, 1.28, 2.01, 2.07, 1.74, 1.72, 2.18, 2.05, 1.68]
fast_mag = [0.578, 0.0, -1.37, 0.586, 0.76, 1.456, 1.21, 2.18, 2.167, 2.384, 2.39, 2.40, 2.48,
            2.52, 2.55, 2.634, 2.716, 2.757, 2.84, 2.90, 2.90, 2.91, 2.51, 3.106, 3.095, 3.085,
            3.43, 3.47, 3.32, 3.29, 3.29, 3.82, 3.28, 3.28, 3.925, 3.97, 3.99, 4.23, 4.19,
            4.25, 4.40, 4.48, 4.52, 4.62, 4.785, 4.83, 4.97, 5.05, 5.11, 5.195, 5.28, 5.28,
            5.54, 5.63, 5.83, 5.89, 5.97, 6.26, 6.28, 6.32, 6.36, 6.445, 6.486, 6.51, 6.35,
            6.465, 2.80, 2.87,
            6.32, 6.47, 6.65, 6.80, 6.88, 7.07, 7.25, 7.36, 7.44, 7.59, 7.52, 7.70, 7.81, 7.89,
            8.0, 7.96, 8.11, 8.15, 8.22, 8.04, 8.30, 8.15, 8.37, 8.34, 8.26, 8.26, 8.15, 8.37,
            8.37, 8.22, 7.74, 7.21, 7.10, 6.69, 6.88, 7.66, 7.85, 7.33, 8.10, 8.37, 8.37, 7.94]

# stars traced to region, velocity 5-30 km/s
slow_color = [-0.123, 0.044, -0.031, 0.205, 0.262, 1.377, 1.18, -0.037, 0.003, 0.055, 0.181, 0.216,
              0.376, 0.307, 0.331, 0.617, 0.572, 0.497, 0.52, 0.56, 0.549, 0.572, 0.595, 0.572, 0.606,
              0.629, 0.652, 0.606, 0.899, 0.675, 0.709, 0.703, 0.79, 0.83, 0.692, 0.732, 0.755, 0.813,
              0.606, 0.675, 0.732, 0.755, 0.778, 0.801, 0.824, 0.79, 0.813, 0.836, 0.87, 0.858, 0.87,
              0.882, 0.905, 0.927, 0.939, 0.962, 0.985, 1.019, 0.996, 1.031, 1.019, 1.042, 1.065, 1.031,
              1.077, 1.10, 1.065, 1.111, 1.203, 1.157, 1.18, 1.214, 1.134, 1.18, 1.214, 1.157, 1.18,
              1.214, 1.249, 1.145, 1.203, 1.283, 1.318, 1.467, 1.50, 1.432, 1.455, 1.524,
              1.215, 1.32, 1.38, 1.467, 1.55, 1.425, 1.615, 1.655, 1.72, 1.845, 1.885, 1.78, 1.97,
              1.51, 1.635, 1.72, 1.845, 1.93, 2.05, 2.18, 0.86, 0.855, 0.965, 1.05, 1.175, 1.30,
              1.05, 1.36, 1.53, 2.345, 0.19]
slow_mag = [0.31, 0.96, 1.21, 1.24, 1.333, -1.02, 0.62, 1.415, 1.59, 1.83, 2.18, 2.255,
            2.43, 2.61, 2.70, 2.255, 2.81, 3.13, 3.24, 3.29, 3.36, 3.39, 3.44, 3.62, 3.68,
            3.74, 3.76, 3.70, 3.76, 3.88, 3.86, 4.07, 4.11, 4.14, 4.17, 4.23, 4.31, 4.25,
            4.21, 4.47, 4.335, 4.42, 4.44, 4.60, 4.64, 4.70, 4.745, 4.785, 4.89, 4.95, 4.99,
            5.05, 5.03, 5.24, 5.28, 5.257, 5.34, 5.42, 5.50, 5.54, 5.626, 5.71, 5.79, 5.83,
            5.85, 5.91, 5.95, 5.995, 5.585, 6.097, 6.117, 6.056, 6.18, 6.20, 6.18, 6.26, 6.32,
            6.34, 6.34, 6.38, 6.425, 6.425, 6.53, 5.995, 6.056, 6.32, 6.38, 6.465,
            6.43, 6.58, 6.77, 6.92, 7.03, 7.18, 7.33, 7.44, 7.59, 7.59, 7.78, 7.89, 7.92,
            8.34, 8.15, 8.34, 8.22, 8.34, 8.11, 8.34, 8.0, 8.15, 8.34, 8.07, 7.81, 5.94,
            6.61, 6.35, 7.33, 7.85, 1.23]

# 2 Myr PARSEC isochrone
iso_color = [-0.41, -0.373, -0.316, -0.216, -0.205, -0.19, -0.175, -0.155, -0.151, -0.145, -0.116,
             -0.059, 0.027, 0.17, 0.312, 0.455, 0.597, 0.675, 0.72, 0.767, 0.824, 0.88, 0.95, 0.996,
             1.054, 1.123, 1.18, 1.295, 1.41, 1.444, 1.467, 1.57, 1.673, 1.754, 1.869, 1.983, 2.098,
             2.33, 2.45, 2.55, 2.65, 2.70, 2.80, 2.87, 2.96]
iso_mag = [-2.06, -1.50, -0.62, 0.30, 0.26, 0.33, 0.21, 0.215, 0.09, -0.06, -0.158,
           -0.173, -0.14, 0.0, 0.188, 0.452, 0.76, 1.036, 1.32, 1.61, 2.04, 2.45, 2.86, 3.25,
           3.45, 3.86, 4.11, 4.60, 4.97, 5.154, 5.216, 5.40, 5.626, 5.83, 6.097, 6.32, 6.55,
           7.0, 7.24, 7.44, 7.64, 7.86, 8.08, 8.22, 8.44]

# 2D runaway / walkaway candidates with their errors
rw_color = [-0.42, 0.527, 1.168, 0.747, 1.019, 0.818, 0.767, 1.128, 1.295, 1.696, 1.556]
rw_mag = [-1.52, 1.148, 1.719, 2.456, 2.917, 3.144, 3.255, 5.144, 5.205, 6.01, 6.107]
rw_color_err = [0.47, 0.16, 0.30, 0.35, 0.108, 0.16, 0.225, 0.46, 0.49, 0.46, 0.333]
rw_mag_err = [0.92, 0.33, 0.575, 0.69, 0.225, 0.33, 0.445, 0.90, 0.97, 0.90, 0.666]

ww_color = [-0.243, 0.142, 0.29, 0.152, 0.694, 0.639, 0.714, 0.958, 1.085, 1.265, 1.247, 1.467,
            1.177, 2.085, 2.085, 2.45, 2.696, 2.876, 2.867, 2.888, 3.118]
ww_mag = [-0.89, 0.51, 0.81, 1.01, 1.594, 2.112, 3.06, 3.60, 3.546, 3.66, 4.093, 4.12,
          5.14, 7.154, 7.27, 7.94, 7.61, 7.95, 8.22, 8.32, 8.27]
ww_color_err = [0.05, 0.45, 0.40, 0.535, 0.45, 0.45, 0.32, 0.346, 0.04, 0.04, 0.40, 0.47,
                0.475, 0.51, 0.45, 0.51, 0.445, 0.53, 0.225, 0.16, 0.2]
ww_mag_err = [0.17, 0.88, 0.79, 1.05, 0.88, 0.89, 0.615, 0.64, 0.11, 0.165, 0.80, 0.93,
              0.925, 1.15, 1.0, 1.25, 1.05, 1.8, 0.67, 0.5, 0.47]

field_color = []
field_mag = []
for mag, colors in field_rows + field_rows_dense:
    for c in colors:
        field_color.append(c)
        field_mag.append(mag)
field_color += sparse_color
field_mag += sparse_mag

FONT = "DejaVu Sans"
fig = go.Figure()

fig.add_trace(go.Scatter(x=field_color, y=field_mag, mode='markers',
                         name='Stars within 8° and 100 pc', legendrank=2, legendgroup='g2',
                         marker=dict(size=12, color='rgba(128,128,128,0.6)',
                                     line=dict(width=0.8, color='rgba(110,110,110,0.35)'))))
fig.add_trace(go.Scatter(x=fast_color, y=fast_mag, mode='markers',
                         name='Stars traced to region (velocity > 30 km s<sup>−1</sup>)',
                         legendrank=3, legendgroup='g3',
                         marker=dict(symbol='x-thin-open', size=15, color='lightsalmon',
                                     line=dict(width=2.8, color='lightsalmon'))))
fig.add_trace(go.Scatter(x=slow_color, y=slow_mag, mode='markers',
                         name='Stars traced to region (velocity 5-30 km s<sup>−1</sup>)',
                         legendrank=4, legendgroup='g4',
                         marker=dict(symbol='cross-thin-open', size=17, color='skyblue',
                                     line=dict(width=2.8, color='skyblue'))))
fig.add_trace(go.Scatter(x=iso_color, y=iso_mag, mode='lines',
                         name='2 Myr Parsec isochrone (Bressan et al. 2012)', legendrank=1, legendgroup='g1',
                         line=dict(color='goldenrod', width=3.4)))
fig.add_trace(go.Scatter(x=rw_color, y=rw_mag, mode='markers', name='2D RW candidates',
                         legendrank=5, legendgroup='g5',
                         marker=dict(symbol='asterisk-open', size=16, color='red',
                                     line=dict(width=2, color='red')),
                         error_x=dict(type='data', array=rw_color_err, color='red', thickness=2.5, width=0),
                         error_y=dict(type='data', array=rw_mag_err, color='red', thickness=2.5, width=0)))
fig.add_trace(go.Scatter(x=ww_color, y=ww_mag, mode='markers', name='2D WW candidates',
                         legendrank=6, legendgroup='g6',
                         marker=dict(symbol='circle', size=13, color='blue'),
                         error_x=dict(type='data', array=ww_color_err, color='blue', thickness=2.5, width=0),
                         error_y=dict(type='data', array=ww_mag_err, color='blue', thickness=2.5, width=0)))

fig.update_layout(
    width=1888, height=1840,
    margin=dict(l=126, r=20, t=38, b=104),
    plot_bgcolor='white', paper_bgcolor='white',
    font=dict(family=FONT, color='black'),
    title=dict(text='NGC2264 IRS1', x=0.528, xanchor='center', y=0.992, yanchor='middle',
               font=dict(size=22, family=FONT)),
    legend=dict(x=0.493, y=0.9906, xanchor='left', yanchor='top',
                font=dict(size=33, family=FONT), bgcolor='rgba(255,255,255,0.8)',
                bordercolor='#cccccc', borderwidth=1.5, tracegroupgap=8,
                itemwidth=100),
    showlegend=True,
)
fig.update_xaxes(range=[-1, 5], dtick=1, tick0=-1, showgrid=False, zeroline=False,
                 showline=True, linecolor='black', linewidth=1.5, mirror=True,
                 ticks='outside', ticklen=7, tickwidth=1.5, tickcolor='black',
                 tickfont=dict(size=36, family=FONT))
fig.update_yaxes(range=[8.44, -2], dtick=2, tick0=-2, showgrid=False, zeroline=False,
                 showline=True, linecolor='black', linewidth=1.5, mirror=True,
                 ticks='outside', ticklen=7, tickwidth=1.5, tickcolor='black',
                 tickfont=dict(size=36, family=FONT))
fig.add_annotation(text='(<i>G</i><sub>BP</sub> − <i>G</i><sub>RP</sub>)<sub>0</sub>',
                   xref='paper', yref='paper', x=0.5, y=-0.046, yanchor='middle',
                   showarrow=False, font=dict(size=34, family=FONT))
fig.add_annotation(text='<i>M</i><sub>G, 0</sub>', xref='paper', yref='paper',
                   x=-0.058, y=0.5, xanchor='center', textangle=-90,
                   showarrow=False, font=dict(size=34, family=FONT))

fig.write_html("out.html")
